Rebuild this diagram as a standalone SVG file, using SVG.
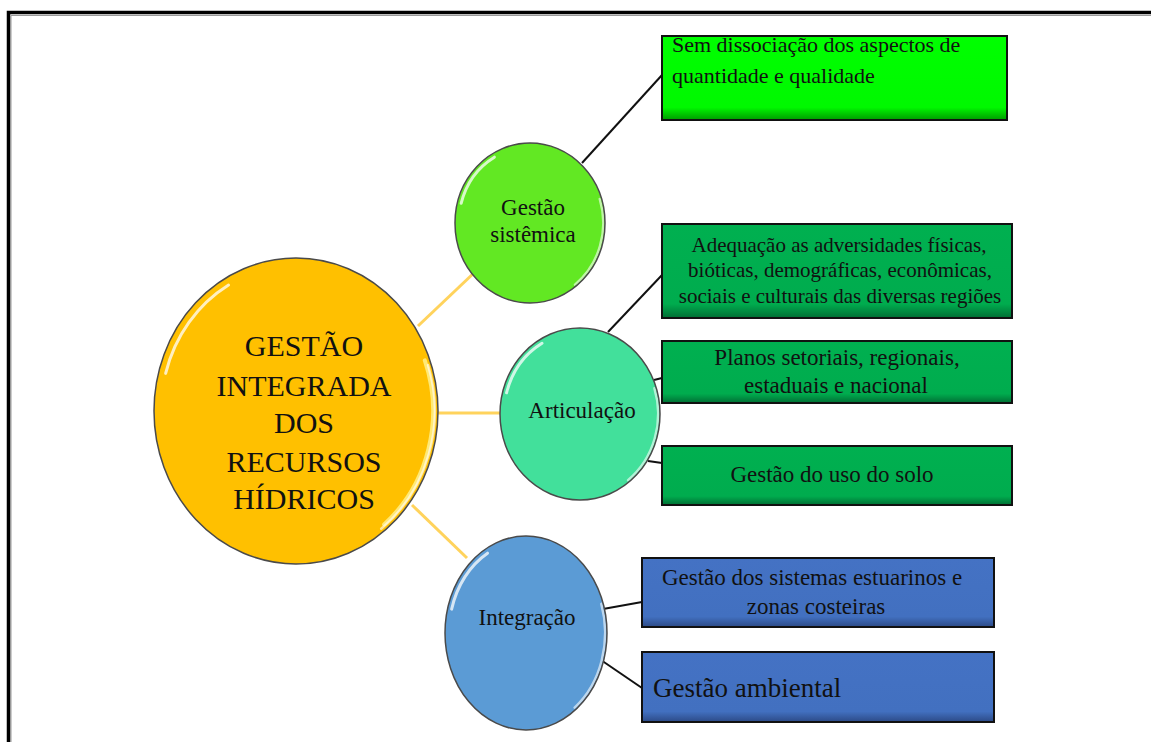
<svg xmlns="http://www.w3.org/2000/svg" width="1151" height="742" viewBox="0 0 1151 742">
  <style>
    text { font-family: "Liberation Serif", "Times New Roman", serif; fill: #111; }
    .box { stroke: #111; stroke-width: 2; }
    .ring { fill: none; stroke: #4a4a4a; stroke-width: 1.5; vector-effect: non-scaling-stroke; }
    .gloss { fill: none; stroke: #ffffff; stroke-linecap: round; vector-effect: non-scaling-stroke; }
    .link-main { stroke: #FFD35C; stroke-width: 3; fill: none; }
    .link { stroke: #111; stroke-width: 2; fill: none; }
    .mid { text-anchor: middle; }
  </style>
  <defs>
    <linearGradient id="gBright" x1="0" y1="0" x2="0" y2="1">
      <stop offset="0" stop-color="#00FF00"/>
      <stop offset="0.85" stop-color="#00F800"/>
      <stop offset="1" stop-color="#009A00"/>
    </linearGradient>
    <linearGradient id="gGreen" x1="0" y1="0" x2="0" y2="1">
      <stop offset="0" stop-color="#00B050"/>
      <stop offset="0.85" stop-color="#00AC4E"/>
      <stop offset="1" stop-color="#006E34"/>
    </linearGradient>
    <linearGradient id="gBlue" x1="0" y1="0" x2="0" y2="1">
      <stop offset="0" stop-color="#4472C4"/>
      <stop offset="0.85" stop-color="#4270C0"/>
      <stop offset="1" stop-color="#2C4A86"/>
    </linearGradient>
    <!-- unit-circle rim and highlights, scaled per node -->
    <g id="shine">
      <path class="gloss" d="M-0.918,-0.246 A0.95,0.95 0 0 1 -0.475,-0.823" stroke-width="3" opacity="0.75"/>
      <path class="gloss" d="M0.930,-0.300 A0.975,0.975 0 0 1 0.600,0.770" stroke-width="2.5" opacity="0.6"/>
      <circle class="ring" cx="0" cy="0" r="1"/>
    </g>
  </defs>

  <!-- page frame -->
  <path d="M11,742 V15.5 H1151" fill="none" stroke="#999" stroke-width="1"/>
  <path d="M8.5,742 V12.5 H1151" fill="none" stroke="#000" stroke-width="3.5"/>

  <!-- connectors -->
  <g id="connectors">
    <line class="link-main" x1="418" y1="326" x2="476" y2="271"/>
    <line class="link-main" x1="438" y1="413" x2="501" y2="413"/>
    <line class="link-main" x1="412" y1="505" x2="467" y2="558"/>
    <line class="link" x1="582" y1="163" x2="662" y2="75"/>
    <line class="link" x1="608" y1="332" x2="662" y2="275"/>
    <line class="link" x1="654" y1="380" x2="662" y2="378"/>
    <line class="link" x1="648" y1="461" x2="662" y2="463"/>
    <line class="link" x1="603" y1="609" x2="642" y2="602"/>
    <line class="link" x1="598" y1="658" x2="642" y2="688"/>
  </g>

  <g id="node-central">
    <ellipse cx="296" cy="411" rx="142" ry="153" fill="#FFC000"/>
    <path d="M424.8,360.4 A137,148 0 0 1 384.1,524.4" fill="none" stroke="#FFF08A" stroke-width="4" stroke-linecap="round" opacity="0.85"/>
    <use href="#shine" transform="translate(296 411) scale(142 153)"/>
    <text class="mid" font-size="30" x="304" y="356">GESTÃO</text>
    <text class="mid" font-size="30" x="304" y="396">INTEGRADA</text>
    <text class="mid" font-size="30" x="304" y="433">DOS</text>
    <text class="mid" font-size="30" x="304" y="472">RECURSOS</text>
    <text class="mid" font-size="30" x="304" y="509">HÍDRICOS</text>
  </g>

  <g id="node-sistemica">
    <ellipse cx="530" cy="223" rx="75" ry="80" fill="#62E823"/>
    <use href="#shine" transform="translate(530 223) scale(75 80)"/>
    <text class="mid" font-size="23" x="533" y="215">Gestão</text>
    <text class="mid" font-size="23" x="533" y="242">sistêmica</text>
  </g>

  <g id="node-articulacao">
    <ellipse cx="580" cy="414" rx="80" ry="86" fill="#42E09B"/>
    <use href="#shine" transform="translate(580 414) scale(80 86)"/>
    <text class="mid" font-size="23" x="582" y="418">Articulação</text>
  </g>

  <g id="node-integracao">
    <ellipse cx="526" cy="633" rx="81" ry="97" fill="#5B9BD5"/>
    <use href="#shine" transform="translate(526 633) scale(81 97)"/>
    <text class="mid" font-size="23" x="527" y="625">Integração</text>
  </g>

  <g id="box-quantidade">
    <rect class="box" x="662" y="36" width="345" height="84" fill="url(#gBright)"/>
    <text font-size="22" x="672" y="52">Sem dissociação dos aspectos de</text>
    <text font-size="22" x="672" y="83">quantidade e qualidade</text>
  </g>

  <g id="box-adequacao">
    <rect class="box" x="662" y="224" width="350" height="94" fill="url(#gGreen)"/>
    <text class="mid" font-size="21" x="839" y="252">Adequação as adversidades físicas,</text>
    <text class="mid" font-size="21" x="840" y="277">bióticas, demográficas, econômicas,</text>
    <text class="mid" font-size="21" x="840" y="303">sociais e culturais das diversas regiões</text>
  </g>

  <g id="box-planos">
    <rect class="box" x="662" y="341" width="350" height="62" fill="url(#gGreen)"/>
    <text class="mid" font-size="23" x="837" y="365">Planos setoriais, regionais,</text>
    <text class="mid" font-size="23" x="836" y="393">estaduais e nacional</text>
  </g>

  <g id="box-solo">
    <rect class="box" x="662" y="446" width="350" height="59" fill="url(#gGreen)"/>
    <text class="mid" font-size="23" x="832" y="482">Gestão do uso do solo</text>
  </g>

  <g id="box-estuarinos">
    <rect class="box" x="642" y="558" width="352" height="69" fill="url(#gBlue)"/>
    <text class="mid" font-size="23" x="812" y="585">Gestão dos sistemas estuarinos e</text>
    <text class="mid" font-size="23" x="816" y="614">zonas costeiras</text>
  </g>

  <g id="box-ambiental">
    <rect class="box" x="642" y="652" width="352" height="70" fill="url(#gBlue)"/>
    <text font-size="27" x="653" y="697">Gestão ambiental</text>
  </g>
</svg>
